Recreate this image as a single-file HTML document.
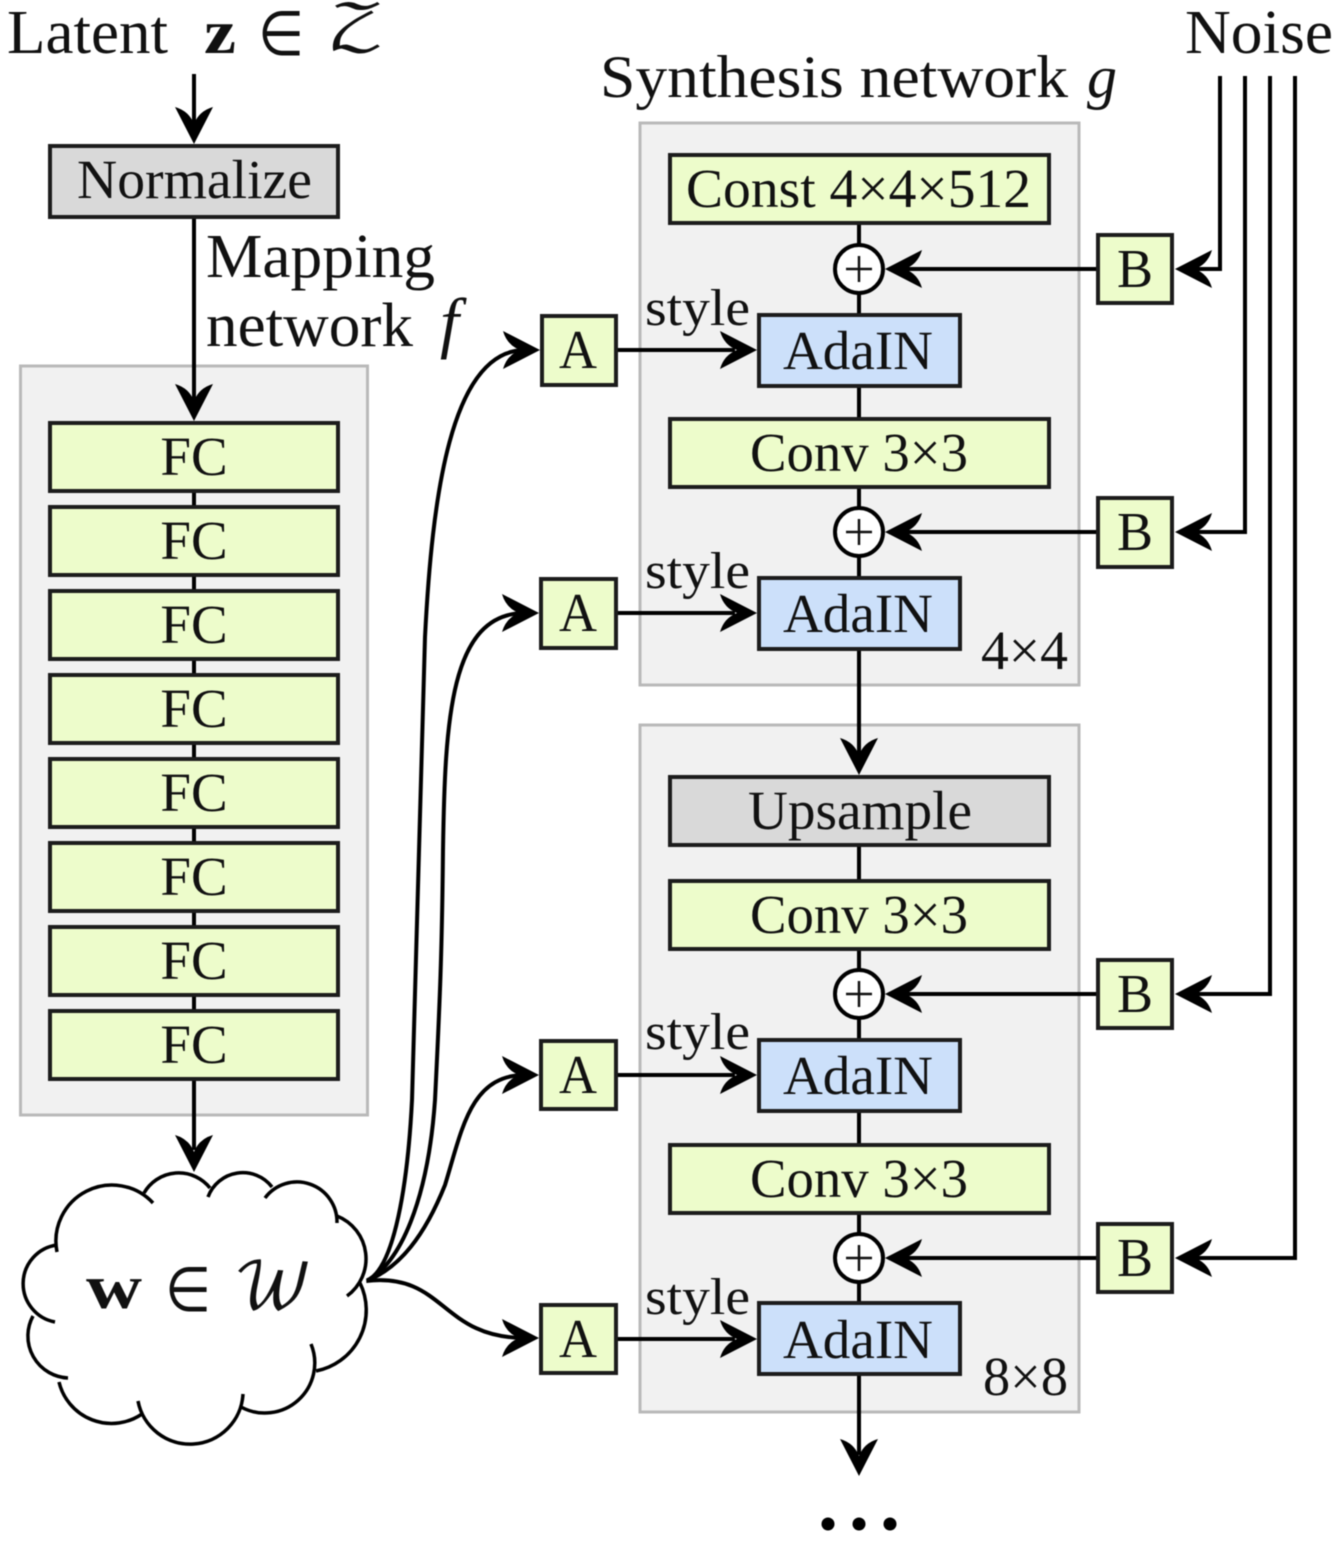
<!DOCTYPE html>
<html lang="en">
<head>
<meta charset="utf-8">
<title>Style-based generator diagram</title>
<style>
html,body{margin:0;padding:0;background:#fff}
svg{display:block;filter:blur(.6px)}
text{font-family:"Liberation Serif",serif;fill:#111}
.p{fill:#f1f1f1;stroke:#b9b9b9;stroke-width:3}
.g{fill:#edfccb;stroke:#1c1c1c;stroke-width:4}
.b{fill:#cce0fa;stroke:#1c1c1c;stroke-width:4}
.n{fill:#d9d9d9;stroke:#1c1c1c;stroke-width:4}
.l{fill:none;stroke:#000;stroke-width:4}
.q{fill:none;stroke:#111;stroke-width:2.500}
.c{fill:#fff;stroke:#000;stroke-width:4}
.m{font-family:"DejaVu Math TeX Gyre","DejaVu Serif","Liberation Serif",serif}
.e{font-family:"DejaVu Sans",sans-serif}
</style>
</head>
<body>
<svg width="1338" height="1546" viewBox="0 0 1338 1546" xmlns="http://www.w3.org/2000/svg">
<defs>
<path id="ar" d="M0 0 L-37 -19 Q-33 -5 -20 0 Q-33 5 -37 19 Z" fill="#000"/>
</defs>
<rect width="1338" height="1546" fill="#fff"/>

<!-- panels -->
<rect class="p" x="20.500" y="366" width="347" height="749"/>
<rect class="p" x="640" y="123" width="439" height="562"/>
<rect class="p" x="640" y="725" width="439" height="687"/>

<!-- vertical lines -->
<path class="l" d="M194 74V125M194 217V405M194 1079V1150"/>
<path class="l" d="M194 491V507M194 575V591M194 659V675M194 743V759M194 827V843M194 911V927M194 995V1011"/>
<path class="l" d="M859 223V315M859 386V419M859 487V578M859 649V755M859 845V881M859 949V1040M859 1111V1145M859 1213V1303M859 1374V1455"/>

<!-- noise -->
<path class="l" d="M1220 76V269H1195M1245 76V532H1195M1270 76V994H1195M1295 76V1258H1195"/>
<!-- B to plus -->
<path class="l" d="M1098 269H900M1098 532H900M1098 994H900M1098 1258H900"/>
<!-- A to AdaIN -->
<path class="l" d="M616 350H735M616 613H735M616 1075H735M616 1339H735"/>

<!-- curves -->
<path class="l" d="M366 1281 C395 1270 408 1180 412 1100 C417 950 420 800 425 637 C432 500 450 350 525 350"/>
<path class="l" d="M366 1281 C400 1265 428 1200 435 1100 C440 1000 442 950 443 850 C445 720 450 613 525 613"/>
<path class="l" d="M366 1281 C400 1268 425 1235 445 1185 C462 1130 470 1075 525 1075"/>
<path class="l" d="M366 1281 C445 1272 440 1338 525 1338"/>

<!-- cloud -->
<g fill="#fff" stroke="#000" stroke-width="3.500">
<path stroke="none" d="M57 1253 L110 1183 L180 1173 L242 1171 L300 1176 L365 1257 L368 1313 L316 1371 L267 1416 L188 1443 L113 1418 L59 1382 L23 1343 L21 1283 Z"/>
<path fill="none" d="M57 1252 A56 56 0 0 1 153 1203"/>
<path fill="none" d="M144 1193 A40 40 0 0 1 210 1188"/>
<path fill="none" d="M208 1197 A37 37 0 0 1 272 1187"/>
<path fill="none" d="M265 1198 A40 40 0 0 1 337 1223"/>
<path fill="none" d="M337 1216 A46 46 0 0 1 347 1296"/>
<path fill="none" d="M360 1283 A62 62 0 0 1 316 1371"/>
<path fill="none" d="M311 1344 A50 50 0 0 1 241 1407"/>
<path fill="none" d="M243 1394 A53 53 0 0 1 138 1401"/>
<path fill="none" d="M142 1414 A54 54 0 0 1 59 1382"/>
<path fill="none" d="M68 1378 A42 42 0 0 1 33 1316"/>
<path fill="none" d="M55 1322 A39 39 0 0 1 57 1245"/>
</g>

<!-- boxes -->
<rect class="n" x="50" y="146" width="288" height="71"/>
<rect class="g" x="50" y="423" width="288" height="68"/>
<rect class="g" x="50" y="507" width="288" height="68"/>
<rect class="g" x="50" y="591" width="288" height="68"/>
<rect class="g" x="50" y="675" width="288" height="68"/>
<rect class="g" x="50" y="759" width="288" height="68"/>
<rect class="g" x="50" y="843" width="288" height="68"/>
<rect class="g" x="50" y="927" width="288" height="68"/>
<rect class="g" x="50" y="1011" width="288" height="68"/>

<rect class="g" x="670" y="155" width="379" height="68"/>
<rect class="b" x="759" y="315" width="201" height="71"/>
<rect class="g" x="670" y="419" width="379" height="68"/>
<rect class="b" x="759" y="578" width="201" height="71"/>
<rect class="n" x="670" y="777" width="379" height="68"/>
<rect class="g" x="670" y="881" width="379" height="68"/>
<rect class="b" x="759" y="1040" width="201" height="71"/>
<rect class="g" x="670" y="1145" width="379" height="68"/>
<rect class="b" x="759" y="1303" width="201" height="71"/>

<rect class="g" x="542" y="316" width="74" height="69"/>
<rect class="g" x="541" y="579" width="75" height="69"/>
<rect class="g" x="541" y="1041" width="75" height="68"/>
<rect class="g" x="541" y="1305" width="75" height="68"/>

<rect class="g" x="1098" y="235" width="74" height="68"/>
<rect class="g" x="1098" y="498" width="74" height="69"/>
<rect class="g" x="1098" y="960" width="74" height="68"/>
<rect class="g" x="1098" y="1224" width="74" height="68"/>

<!-- plus nodes -->
<g>
<circle class="c" cx="859" cy="269" r="24"/><path class="q" d="M846 269H872M859 256V282"/>
<circle class="c" cx="859" cy="532" r="24"/><path class="q" d="M846 532H872M859 519V545"/>
<circle class="c" cx="859" cy="994" r="24"/><path class="q" d="M846 994H872M859 981V1007"/>
<circle class="c" cx="859" cy="1258" r="24"/><path class="q" d="M846 1258H872M859 1245V1271"/>
</g>

<!-- arrowheads -->
<use href="#ar" transform="translate(194 144) rotate(90)"/>
<use href="#ar" transform="translate(194 421) rotate(90)"/>
<use href="#ar" transform="translate(194 1172) rotate(90)"/>
<use href="#ar" transform="translate(859 775) rotate(90)"/>
<use href="#ar" transform="translate(859 1476) rotate(90)"/>
<use href="#ar" transform="translate(540 350)"/>
<use href="#ar" transform="translate(539 613)"/>
<use href="#ar" transform="translate(539 1075)"/>
<use href="#ar" transform="translate(539 1338)"/>
<use href="#ar" transform="translate(757 350)"/>
<use href="#ar" transform="translate(757 613)"/>
<use href="#ar" transform="translate(757 1075)"/>
<use href="#ar" transform="translate(757 1339)"/>
<use href="#ar" transform="translate(1175 269) rotate(180)"/>
<use href="#ar" transform="translate(1175 532) rotate(180)"/>
<use href="#ar" transform="translate(1175 994) rotate(180)"/>
<use href="#ar" transform="translate(1175 1258) rotate(180)"/>
<use href="#ar" transform="translate(885 269) rotate(180)"/>
<use href="#ar" transform="translate(885 532) rotate(180)"/>
<use href="#ar" transform="translate(885 994) rotate(180)"/>
<use href="#ar" transform="translate(885 1258) rotate(180)"/>

<circle cx="828" cy="1524" r="6.500" fill="#000"/>
<circle cx="859" cy="1524" r="6.500" fill="#000"/>
<circle cx="890" cy="1524" r="6.500" fill="#000"/>

<!-- labels -->
<g font-size="62">
<text x="7" y="53" textLength="161" lengthAdjust="spacingAndGlyphs">Latent</text>
<text x="204" y="53" font-weight="700" textLength="32" lengthAdjust="spacingAndGlyphs">z</text>
<text class="e" x="258" y="55" font-size="62" textLength="46" lengthAdjust="spacingAndGlyphs">∈</text>
<text class="m" transform="translate(327 49) scale(1.18 1)" font-size="62">𝒵</text>
<text x="1185" y="53" textLength="148" lengthAdjust="spacingAndGlyphs">Noise</text>
<text x="206" y="277" textLength="229" lengthAdjust="spacingAndGlyphs">Mapping</text>
<text x="206" y="346" textLength="207" lengthAdjust="spacingAndGlyphs">network</text>
<text x="440" y="345" font-style="italic" font-size="68">f</text>
<text x="600" y="97" font-size="60" textLength="468" lengthAdjust="spacingAndGlyphs">Synthesis network</text>
<text x="1087" y="97" font-size="60" font-style="italic" textLength="30" lengthAdjust="spacingAndGlyphs">g</text>
</g>

<g font-size="55" text-anchor="middle">
<text x="77" y="198" text-anchor="start" textLength="235" lengthAdjust="spacingAndGlyphs">Normalize</text>
<text x="194" y="475">FC</text>
<text x="194" y="559">FC</text>
<text x="194" y="643">FC</text>
<text x="194" y="727">FC</text>
<text x="194" y="811">FC</text>
<text x="194" y="895">FC</text>
<text x="194" y="979">FC</text>
<text x="194" y="1063">FC</text>
</g>

<g font-size="55">
<text x="686" y="207" textLength="345" lengthAdjust="spacingAndGlyphs">Const 4×4×512</text>
<text x="750" y="471" textLength="218" lengthAdjust="spacingAndGlyphs">Conv 3×3</text>
<text x="750" y="933" textLength="218" lengthAdjust="spacingAndGlyphs">Conv 3×3</text>
<text x="750" y="1197" textLength="218" lengthAdjust="spacingAndGlyphs">Conv 3×3</text>
<text x="748" y="829" textLength="224" lengthAdjust="spacingAndGlyphs">Upsample</text>
<text x="783" y="369" textLength="150" lengthAdjust="spacingAndGlyphs">AdaIN</text>
<text x="783" y="632" textLength="150" lengthAdjust="spacingAndGlyphs">AdaIN</text>
<text x="783" y="1094" textLength="150" lengthAdjust="spacingAndGlyphs">AdaIN</text>
<text x="783" y="1358" textLength="150" lengthAdjust="spacingAndGlyphs">AdaIN</text>
<text x="559" y="368" textLength="38" lengthAdjust="spacingAndGlyphs">A</text>
<text x="559" y="631" textLength="38" lengthAdjust="spacingAndGlyphs">A</text>
<text x="559" y="1093" textLength="38" lengthAdjust="spacingAndGlyphs">A</text>
<text x="559" y="1357" textLength="38" lengthAdjust="spacingAndGlyphs">A</text>
<text x="1117" y="287" textLength="36" lengthAdjust="spacingAndGlyphs">B</text>
<text x="1117" y="550" textLength="36" lengthAdjust="spacingAndGlyphs">B</text>
<text x="1117" y="1012" textLength="36" lengthAdjust="spacingAndGlyphs">B</text>
<text x="1117" y="1276" textLength="36" lengthAdjust="spacingAndGlyphs">B</text>
<text x="981" y="669" textLength="87" lengthAdjust="spacingAndGlyphs">4×4</text>
<text x="983" y="1395" textLength="85" lengthAdjust="spacingAndGlyphs">8×8</text>
</g>

<g font-size="52">
<text x="645" y="325" textLength="105" lengthAdjust="spacingAndGlyphs">style</text>
<text x="645" y="588" textLength="105" lengthAdjust="spacingAndGlyphs">style</text>
<text x="645" y="1049" textLength="105" lengthAdjust="spacingAndGlyphs">style</text>
<text x="645" y="1314" textLength="105" lengthAdjust="spacingAndGlyphs">style</text>
</g>

<text x="86" y="1308" font-size="62" font-weight="700" textLength="56" lengthAdjust="spacingAndGlyphs">w</text>
<text class="e" x="165" y="1311" font-size="62" textLength="46" lengthAdjust="spacingAndGlyphs">∈</text>
<text class="m" x="233" y="1308" font-size="64">𝒲</text>
</svg>
</body>
</html>
